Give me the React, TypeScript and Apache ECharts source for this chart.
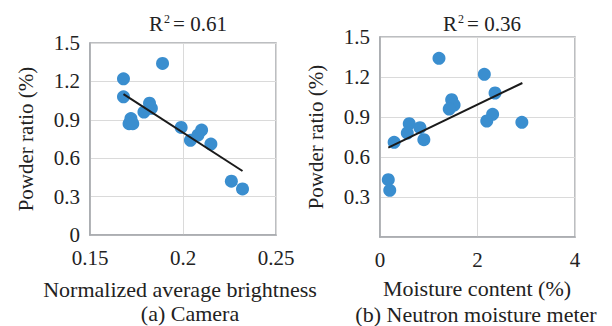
import React, { useEffect, useRef } from "react";
import * as echarts from "echarts";

const camX = [0.168, 0.168, 0.189, 0.172, 0.171, 0.173, 0.179, 0.182, 0.183, 0.199, 0.204, 0.208, 0.210, 0.215, 0.226, 0.232];
const camY = [1.22, 1.08, 1.34, 0.91, 0.87, 0.87, 0.96, 1.03, 0.99, 0.84, 0.74, 0.78, 0.82, 0.71, 0.42, 0.36];
const camTrendX = [0.168, 0.232];
const camTrendY = [1.10, 0.50];

const neuX = [1.21, 2.14, 2.36, 1.47, 1.52, 1.42, 2.31, 2.19, 2.91, 0.60, 0.56, 0.82, 0.90, 0.29, 0.17, 0.20];
const neuY = [1.34, 1.22, 1.08, 1.03, 0.99, 0.96, 0.92, 0.87, 0.86, 0.85, 0.78, 0.82, 0.73, 0.71, 0.43, 0.35];
const neuTrendX = [0.17, 2.92];
const neuTrendY = [0.67, 1.155];

const camXTicks = ["0.15", "0.2", "0.25"];
const neuXTicks = ["0", "2", "4"];
const yTicks = ["0", "0.3", "0.6", "0.9", "1.2", "1.5"];

const FONT = "Liberation Serif";
const TXT = "#222";
const BLUE = "#3a8ecf";

const zip = (a: number[], b: number[]) => a.map((v, i) => [v, b[i]]);

export default function App() {
  const ref = useRef<HTMLDivElement>(null);
  useEffect(() => {
    if (!ref.current) return;
    const chart = echarts.init(ref.current, undefined, { renderer: "svg" });
    const base = { fontFamily: FONT, fontSize: 21, fontWeight: "normal" as const, color: TXT };
    const rich = {
      r: { ...base },
      s: { ...base, fontSize: 12, padding: [0, 3, 10, 1] },
    };
    const splitLine = { show: true, lineStyle: { color: "#dadada", width: 1 } };
    const axisLine = { show: true, lineStyle: { color: "#a6a9ad", width: 1.5 } };
    const yName = {
      name: "Powder ratio (%)",
      nameLocation: "middle" as const,
      nameGap: 54,
      nameTextStyle: { ...base },
    };
    const gtext = (x: number, y: number, text: string) => ({
      type: "text", x, y,
      style: { text, fontFamily: FONT, fontSize: 22, fontWeight: "normal", fill: TXT, textAlign: "center", textVerticalAlign: "middle" },
    });
    chart.setOption({
      animation: false,
      textStyle: { fontFamily: FONT, fontWeight: "normal", color: TXT },
      grid: [
        { left: 90, top: 43, width: 186, height: 192, show: true, borderColor: "#a6a9ad", borderWidth: 1.5, backgroundColor: "transparent" },
        { left: 380, top: 37, width: 195, height: 200, show: true, borderColor: "#a6a9ad", borderWidth: 1.5, backgroundColor: "transparent" },
      ],
      xAxis: [
        {
          gridIndex: 0, type: "value", min: 0.15, max: 0.25, interval: 0.05,
          axisLine, axisTick: { show: false }, splitLine,
          axisLabel: { ...base, margin: 12, formatter: (v: number) => camXTicks[Math.round((v - 0.15) / 0.05)] ?? "" },
        },
        {
          gridIndex: 1, type: "value", min: 0, max: 4, interval: 2,
          axisLine, axisTick: { show: false }, splitLine,
          axisLabel: { ...base, margin: 12, formatter: (v: number) => neuXTicks[Math.round(v / 2)] ?? "" },
        },
      ],
      yAxis: [
        {
          gridIndex: 0, type: "value", min: 0, max: 1.5, interval: 0.3,
          axisLine, axisTick: { show: false }, splitLine, ...yName,
          axisLabel: { ...base, margin: 10, formatter: (v: number) => yTicks[Math.round(v / 0.3)] ?? "" },
        },
        {
          gridIndex: 1, type: "value", min: 0, max: 1.5, interval: 0.3,
          axisLine, axisTick: { show: false }, splitLine, ...yName,
          axisLabel: { ...base, margin: 10, formatter: (v: number) => { const i = Math.round(v / 0.3); return i === 0 ? "" : yTicks[i]; } },
        },
      ],
      title: [
        { text: "{r|R}{s|2}{r|= 0.61}", left: 183, top: 8, textAlign: "center", textStyle: { fontWeight: "normal", rich } },
        { text: "{r|R}{s|2}{r|= 0.36}", left: 477, top: 8, textAlign: "center", textStyle: { fontWeight: "normal", rich } },
      ],
      graphic: [
        gtext(180, 289, "Normalized average brightness"),
        gtext(190, 313, "(a) Camera"),
        gtext(477, 288, "Moisture content (%)"),
        gtext(476, 314, "(b) Neutron moisture meter"),
      ],
      series: [
        {
          type: "scatter", xAxisIndex: 0, yAxisIndex: 0, data: zip(camX, camY),
          symbolSize: 13, itemStyle: { color: BLUE, opacity: 1 }, z: 2,
        },
        {
          type: "line", xAxisIndex: 0, yAxisIndex: 0, data: zip(camTrendX, camTrendY),
          showSymbol: false, symbol: "none", lineStyle: { color: "#1a1a1a", width: 2 }, z: 3,
        },
        {
          type: "scatter", xAxisIndex: 1, yAxisIndex: 1, data: zip(neuX, neuY),
          symbolSize: 13, itemStyle: { color: BLUE, opacity: 1 }, z: 2,
        },
        {
          type: "line", xAxisIndex: 1, yAxisIndex: 1, data: zip(neuTrendX, neuTrendY),
          showSymbol: false, symbol: "none", lineStyle: { color: "#1a1a1a", width: 2 }, z: 3,
        },
      ],
    });
    return () => chart.dispose();
  }, []);
  return <div ref={ref} style={{ width: 612, height: 326, position: "absolute", left: 0, top: 0 }} />;
}
